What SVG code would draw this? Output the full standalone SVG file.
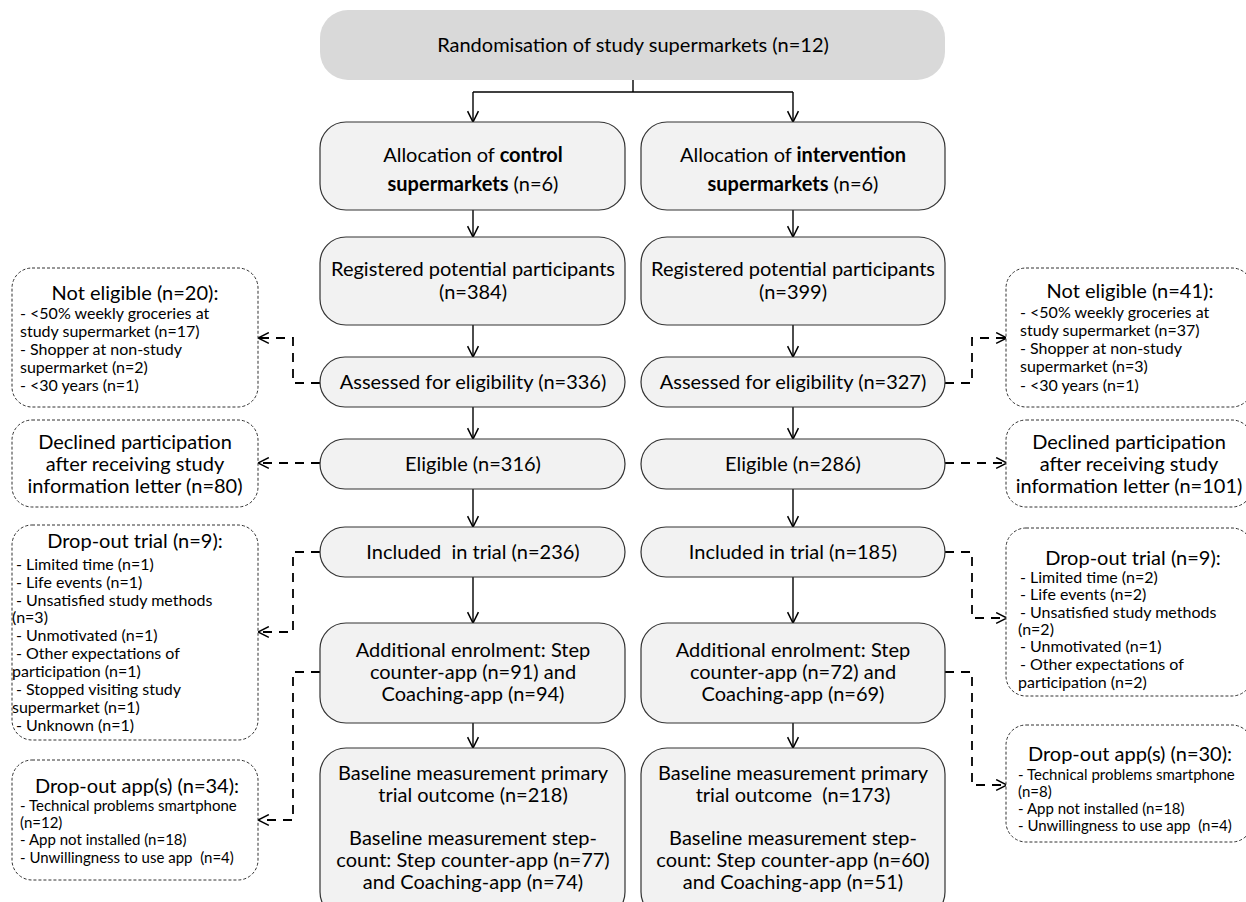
<svg xmlns="http://www.w3.org/2000/svg" width="1246" height="902" viewBox="0 0 1246 902">
<defs>
<marker id="ah" viewBox="0 0 12 12" refX="11" refY="6" markerWidth="13" markerHeight="13" markerUnits="userSpaceOnUse" orient="auto">
<path d="M1,1 L11,6 L1,11" fill="none" stroke="#000" stroke-width="1.4"/>
</marker>
<style>
.main{fill:#f2f2f2;stroke:#333;stroke-width:1.2}
.top{fill:#d9d9d9;stroke:none}
.side{fill:#fff;stroke:#333;stroke-width:1;stroke-dasharray:3,2}
text{font-family:Lato,"Liberation Sans",sans-serif;fill:#000}
.t20{font-size:20px}
.c{text-anchor:middle}
.t15{font-size:16px}
.t14{font-size:15px}
.solid{fill:none;stroke:#000;stroke-width:1.4}
.dash{fill:none;stroke:#000;stroke-width:1.8;stroke-dasharray:9,7}
</style>
</defs>
<rect width="1246" height="902" fill="#fff"/>

<g id="connectors">
<path class="solid" d="M633,80 V92"/>
<path class="solid" d="M473,92 H793"/>
<path class="solid" d="M473,92 V122" marker-end="url(#ah)"/>
<path class="solid" d="M793,92 V122" marker-end="url(#ah)"/>
<path class="solid" d="M473,210 V237" marker-end="url(#ah)"/>
<path class="solid" d="M793,210 V237" marker-end="url(#ah)"/>
<path class="solid" d="M473,325 V357" marker-end="url(#ah)"/>
<path class="solid" d="M793,325 V357" marker-end="url(#ah)"/>
<path class="solid" d="M473,407 V439" marker-end="url(#ah)"/>
<path class="solid" d="M793,407 V439" marker-end="url(#ah)"/>
<path class="solid" d="M473,489 V527" marker-end="url(#ah)"/>
<path class="solid" d="M793,489 V527" marker-end="url(#ah)"/>
<path class="solid" d="M473,577 V623" marker-end="url(#ah)"/>
<path class="solid" d="M793,577 V623" marker-end="url(#ah)"/>
<path class="solid" d="M473,723 V748" marker-end="url(#ah)"/>
<path class="solid" d="M793,723 V748" marker-end="url(#ah)"/>

<path class="dash" d="M320,383 H293 V338 H258" marker-end="url(#ah)"/>
<path class="dash" d="M945,383 H972 V338 H1007" marker-end="url(#ah)"/>
<path class="dash" d="M320,463 H258" marker-end="url(#ah)"/>
<path class="dash" d="M945,463 H1007" marker-end="url(#ah)"/>
<path class="dash" d="M320,552 H293 V632 H258" marker-end="url(#ah)"/>
<path class="dash" d="M945,552 H972 V618 H1007" marker-end="url(#ah)"/>
<path class="dash" d="M320,672 H293 V820 H258" marker-end="url(#ah)"/>
<path class="dash" d="M945,672 H972 V785 H1007" marker-end="url(#ah)"/>
</g>

<g id="randomisation">
<rect class="top" x="320" y="10" width="625" height="70" rx="28"/>
<text class="t20 c" x="633" y="52">Randomisation of study supermarkets (n=12)</text>
</g>

<g id="alloc-control">
<rect class="main" x="320" y="122" width="305" height="88" rx="26"/>
<text class="t20 c" x="473" y="162">Allocation of <tspan font-weight="bold">control</tspan></text>
<text class="t20 c" x="473" y="191"><tspan font-weight="bold">supermarkets</tspan> (n=6)</text>
</g>
<g id="alloc-intervention">
<rect class="main" x="641" y="122" width="304" height="88" rx="26"/>
<text class="t20 c" x="793" y="162">Allocation of <tspan font-weight="bold">intervention</tspan></text>
<text class="t20 c" x="793" y="191"><tspan font-weight="bold">supermarkets</tspan> (n=6)</text>
</g>

<g id="registered-control">
<rect class="main" x="320" y="237" width="305" height="88" rx="26"/>
<text class="t20 c" x="473" y="276">Registered potential participants</text>
<text class="t20 c" x="473" y="299">(n=384)</text>
</g>
<g id="registered-intervention">
<rect class="main" x="641" y="237" width="304" height="88" rx="26"/>
<text class="t20 c" x="793" y="276">Registered potential participants</text>
<text class="t20 c" x="793" y="299">(n=399)</text>
</g>

<g id="assessed-control">
<rect class="main" x="320" y="357" width="305" height="50" rx="25"/>
<text class="t20 c" x="473" y="389">Assessed for eligibility (n=336)</text>
</g>
<g id="assessed-intervention">
<rect class="main" x="641" y="357" width="304" height="50" rx="25"/>
<text class="t20 c" x="793" y="389">Assessed for eligibility (n=327)</text>
</g>

<g id="eligible-control">
<rect class="main" x="320" y="439" width="305" height="50" rx="25"/>
<text class="t20 c" x="473" y="471">Eligible (n=316)</text>
</g>
<g id="eligible-intervention">
<rect class="main" x="641" y="439" width="304" height="50" rx="25"/>
<text class="t20 c" x="793" y="471">Eligible (n=286)</text>
</g>

<g id="included-control">
<rect class="main" x="320" y="527" width="305" height="50" rx="25"/>
<text class="t20 c" x="473" y="559" xml:space="preserve">Included  in trial (n=236)</text>
</g>
<g id="included-intervention">
<rect class="main" x="641" y="527" width="304" height="50" rx="25"/>
<text class="t20 c" x="793" y="559">Included in trial (n=185)</text>
</g>

<g id="enrol-control">
<rect class="main" x="320" y="623" width="305" height="100" rx="26"/>
<text class="t20 c" x="473" y="657">Additional enrolment: Step</text>
<text class="t20 c" x="473" y="679">counter-app (n=91) and</text>
<text class="t20 c" x="473" y="701">Coaching-app (n=94)</text>
</g>
<g id="enrol-intervention">
<rect class="main" x="641" y="623" width="304" height="100" rx="26"/>
<text class="t20 c" x="793" y="657">Additional enrolment: Step</text>
<text class="t20 c" x="793" y="679">counter-app (n=72) and</text>
<text class="t20 c" x="793" y="701">Coaching-app (n=69)</text>
</g>

<g id="baseline-control">
<rect class="main" x="320" y="748" width="305" height="170" rx="26"/>
<text class="t20 c" x="473" y="780">Baseline measurement primary</text>
<text class="t20 c" x="473" y="802">trial outcome (n=218)</text>
<text class="t20 c" x="473" y="845">Baseline measurement step-</text>
<text class="t20 c" x="473" y="867">count: Step counter-app (n=77)</text>
<text class="t20 c" x="473" y="889">and Coaching-app (n=74)</text>
</g>
<g id="baseline-intervention">
<rect class="main" x="641" y="748" width="304" height="170" rx="26"/>
<text class="t20 c" x="793" y="780">Baseline measurement primary</text>
<text class="t20 c" x="793" y="802" xml:space="preserve">trial outcome  (n=173)</text>
<text class="t20 c" x="793" y="845">Baseline measurement step-</text>
<text class="t20 c" x="793" y="867">count: Step counter-app (n=60)</text>
<text class="t20 c" x="793" y="889">and Coaching-app (n=51)</text>
</g>

<g id="noteligible-control">
<rect class="side" x="12" y="268" width="246" height="139" rx="20"/>
<text class="t20 c" x="135" y="300">Not eligible (n=20):</text>
<text class="t15" x="20" y="319">- &lt;50% weekly groceries at</text>
<text class="t15" x="20" y="337">study supermarket (n=17)</text>
<text class="t15" x="20" y="355">- Shopper at non-study</text>
<text class="t15" x="20" y="373">supermarket (n=2)</text>
<text class="t15" x="20" y="391">- &lt;30 years (n=1)</text>
</g>
<g id="noteligible-intervention">
<rect class="side" x="1006" y="268" width="246" height="139" rx="20"/>
<text class="t20 c" x="1130" y="298">Not eligible (n=41):</text>
<text class="t15" x="1020" y="318">- &lt;50% weekly groceries at</text>
<text class="t15" x="1020" y="336">study supermarket (n=37)</text>
<text class="t15" x="1020" y="354">- Shopper at non-study</text>
<text class="t15" x="1020" y="372">supermarket (n=3)</text>
<text class="t15" x="1020" y="391">- &lt;30 years (n=1)</text>
</g>

<g id="declined-control">
<rect class="side" x="12" y="420" width="246" height="87" rx="20"/>
<text class="t20 c" x="135" y="449">Declined participation</text>
<text class="t20 c" x="135" y="471">after receiving study</text>
<text class="t20 c" x="135" y="493">information letter (n=80)</text>
</g>
<g id="declined-intervention">
<rect class="side" x="1006" y="420" width="246" height="87" rx="20"/>
<text class="t20 c" x="1129" y="449">Declined participation</text>
<text class="t20 c" x="1129" y="471">after receiving study</text>
<text class="t20 c" x="1129" y="493">information letter (n=101)</text>
</g>

<g id="dropout-trial-control">
<rect class="side" x="12" y="525" width="246" height="215" rx="20"/>
<text class="t20 c" x="135" y="548">Drop-out trial (n=9):</text>
<text class="t15" x="16" y="570">- Limited time (n=1)</text>
<text class="t15" x="16" y="588">- Life events (n=1)</text>
<text class="t15" x="16" y="606">- Unsatisfied study methods</text>
<text class="t15" x="12" y="623">(n=3)</text>
<text class="t15" x="16" y="641">- Unmotivated (n=1)</text>
<text class="t15" x="16" y="659">- Other expectations of</text>
<text class="t15" x="12" y="677">participation (n=1)</text>
<text class="t15" x="16" y="695">- Stopped visiting study</text>
<text class="t15" x="12" y="713">supermarket (n=1)</text>
<text class="t15" x="16" y="731">- Unknown (n=1)</text>
</g>
<g id="dropout-trial-intervention">
<rect class="side" x="1006" y="528" width="246" height="168" rx="20"/>
<text class="t20 c" x="1133" y="565">Drop-out trial (n=9):</text>
<text class="t15" x="1020" y="583">- Limited time (n=2)</text>
<text class="t15" x="1020" y="600">- Life events (n=2)</text>
<text class="t15" x="1020" y="618">- Unsatisfied study methods</text>
<text class="t15" x="1018" y="635">(n=2)</text>
<text class="t15" x="1020" y="652">- Unmotivated (n=1)</text>
<text class="t15" x="1020" y="670">- Other expectations of</text>
<text class="t15" x="1018" y="688">participation (n=2)</text>
</g>

<g id="dropout-app-control">
<rect class="side" x="12" y="760" width="246" height="120" rx="20"/>
<text class="t20 c" x="137" y="793">Drop-out app(s) (n=34):</text>
<text class="t14" x="20" y="811">- Technical problems smartphone</text>
<text class="t14" x="20" y="828">(n=12)</text>
<text class="t14" x="20" y="845">- App not installed (n=18)</text>
<text class="t14" x="20" y="863" xml:space="preserve">- Unwillingness to use app  (n=4)</text>
</g>
<g id="dropout-app-intervention">
<rect class="side" x="1006" y="725" width="246" height="117" rx="20"/>
<text class="t20 c" x="1130" y="761">Drop-out app(s) (n=30):</text>
<text class="t14" x="1018" y="780">- Technical problems smartphone</text>
<text class="t14" x="1018" y="797">(n=8)</text>
<text class="t14" x="1018" y="814">- App not installed (n=18)</text>
<text class="t14" x="1018" y="831" xml:space="preserve">- Unwillingness to use app  (n=4)</text>
</g>
</svg>
